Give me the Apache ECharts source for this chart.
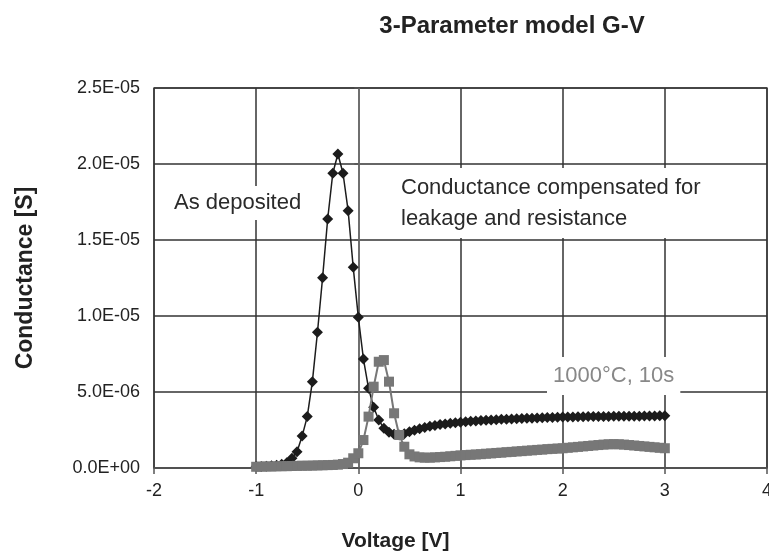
<!DOCTYPE html>
<html>
<head>
<meta charset="utf-8">
<script src="https://cdn.jsdelivr.net/npm/echarts@6/dist/echarts.min.js"></script>
<style>
html,body{margin:0;padding:0;background:#fff;}
#chart{width:769px;height:557px;}
</style>
</head>
<body>
<div id="chart"></div>
<script>
const voltages = [-1.00,-0.95,-0.90,-0.85,-0.80,-0.75,-0.70,-0.65,-0.60,-0.55,-0.50,-0.45,-0.40,-0.35,-0.30,-0.25,-0.20,-0.15,-0.10,-0.05,
0.00,0.05,0.10,0.15,0.20,0.25,0.30,0.35,0.40,0.45,0.50,0.55,0.60,0.65,0.70,0.75,0.80,0.85,0.90,0.95,
1.00,1.05,1.10,1.15,1.20,1.25,1.30,1.35,1.40,1.45,1.50,1.55,1.60,1.65,1.70,1.75,1.80,1.85,1.90,1.95,
2.00,2.05,2.10,2.15,2.20,2.25,2.30,2.35,2.40,2.45,2.50,2.55,2.60,2.65,2.70,2.75,2.80,2.85,2.90,2.95,3.00];

const asDeposited = [1.0e-7,1.0e-7,1.2e-7,1.4e-7,1.8e-7,2.4e-7,3.5e-7,6.4e-7,1.07e-6,2.10e-6,3.38e-6,5.68e-6,8.93e-6,1.252e-5,1.638e-5,1.939e-5,2.066e-5,1.939e-5,1.693e-5,1.320e-5,
9.91e-6,7.17e-6,5.24e-6,4.00e-6,3.16e-6,2.61e-6,2.35e-6,2.22e-6,2.17e-6,2.25e-6,2.38e-6,2.48e-6,2.58e-6,2.66e-6,2.74e-6,2.80e-6,2.86e-6,2.90e-6,2.95e-6,2.98e-6,
3.01e-6,3.04e-6,3.07e-6,3.09e-6,3.12e-6,3.14e-6,3.16e-6,3.18e-6,3.20e-6,3.21e-6,3.23e-6,3.24e-6,3.26e-6,3.27e-6,3.28e-6,3.29e-6,3.31e-6,3.32e-6,3.33e-6,3.34e-6,
3.35e-6,3.36e-6,3.36e-6,3.37e-6,3.37e-6,3.38e-6,3.38e-6,3.39e-6,3.39e-6,3.39e-6,3.40e-6,3.40e-6,3.40e-6,3.41e-6,3.41e-6,3.41e-6,3.42e-6,3.42e-6,3.42e-6,3.43e-6,3.43e-6];

const annealed = [8e-8,9e-8,1.0e-7,1.0e-7,1.1e-7,1.2e-7,1.2e-7,1.3e-7,1.4e-7,1.5e-7,1.5e-7,1.6e-7,1.7e-7,1.8e-7,1.9e-7,2.0e-7,2.2e-7,2.6e-7,3.5e-7,6.4e-7,
9.7e-7,1.84e-6,3.38e-6,5.35e-6,6.99e-6,7.10e-6,5.68e-6,3.60e-6,2.17e-6,1.40e-6,9.0e-7,7.6e-7,7.0e-7,6.8e-7,6.8e-7,7.0e-7,7.2e-7,7.4e-7,7.7e-7,8.0e-7,
8.3e-7,8.5e-7,8.7e-7,8.9e-7,9.1e-7,9.4e-7,9.6e-7,9.9e-7,1.01e-6,1.04e-6,1.06e-6,1.09e-6,1.11e-6,1.14e-6,1.16e-6,1.19e-6,1.21e-6,1.24e-6,1.26e-6,1.28e-6,
1.30e-6,1.33e-6,1.36e-6,1.39e-6,1.42e-6,1.45e-6,1.48e-6,1.51e-6,1.54e-6,1.56e-6,1.57e-6,1.56e-6,1.54e-6,1.51e-6,1.48e-6,1.45e-6,1.42e-6,1.39e-6,1.36e-6,1.33e-6,1.30e-6];

const xTicks = [-2,-1,0,1,2,3,4];
const yTicks = ['0.0E+00','5.0E-06','1.0E-05','1.5E-05','2.0E-05','2.5E-05'];

const FONT = "'Liberation Sans', Arial, sans-serif";

function pair(xs, ys){ return xs.map((x,i)=>[x, ys[i]]); }
function yFmt(v){
  const idx = Math.round(v / 5e-6);
  return yTicks[idx] !== undefined ? yTicks[idx] : v.toExponential(1).toUpperCase();
}

const chart = echarts.init(document.getElementById('chart'), null, {renderer:'canvas'});
chart.setOption({
  backgroundColor:'#ffffff',
  animation:false,
  title:{
    text:'3-Parameter model G-V',
    left:507, top:9, textAlign:'center',
    textStyle:{fontFamily:FONT, fontSize:24, fontWeight:'bold', color:'#222'}
  },
  grid:{left:154, right:2, top:88, bottom:89, show:true, borderColor:'#555', borderWidth:1.5, backgroundColor:'transparent', outerBoundsMode:'none', containLabel:false},
  xAxis:{
    type:'value', min:xTicks[0], max:xTicks[xTicks.length-1], interval:1,
    name:'Voltage [V]', nameLocation:'middle', nameGap:63,
    nameTextStyle:{fontFamily:FONT, fontSize:21, fontWeight:'bold', color:'#222', padding:[0,130,0,0]},
    axisLine:{show:true, lineStyle:{color:'#555', width:1.5}},
    axisTick:{show:true, length:6, lineStyle:{color:'#555', width:1.5}},
    axisLabel:{fontFamily:FONT, fontSize:18, color:'#222', margin:14, hideOverlap:false},
    splitLine:{show:true, lineStyle:{color:['#333','#333','#aaa','#333','#333','#333','#333'], width:1.5}}
  },
  yAxis:{
    type:'value', min:0, max:2.5e-5, interval:5e-6,
    name:'Conductance [S]', nameLocation:'middle', nameGap:117,
    nameTextStyle:{fontFamily:FONT, fontSize:23, fontWeight:'bold', color:'#222'},
    axisLine:{show:true, lineStyle:{color:'#555', width:1.5}},
    axisTick:{show:true, length:4, lineStyle:{color:'#555', width:1.5}},
    axisLabel:{fontFamily:FONT, fontSize:18, color:'#222', margin:14, formatter:yFmt},
    splitLine:{show:true, lineStyle:{color:'#333', width:1.5}}
  },
  graphic:[
    {type:'text', left:166, top:186, z:1,
     style:{text:'As deposited', font:"22px 'Liberation Sans', Arial, sans-serif", fill:'#2a2a2a', backgroundColor:'#fff', padding:[6,8]}},
    {type:'text', left:393, top:168, z:1,
     style:{text:'Conductance compensated for\nleakage and resistance', font:"22px 'Liberation Sans', Arial, sans-serif", lineHeight:31, fill:'#2a2a2a', backgroundColor:'#fff', padding:[4,8]}},
    {type:'text', left:547, top:357, z:1,
     style:{text:'1000°C, 10s', font:"22px 'Liberation Sans', Arial, sans-serif", fill:'#888', backgroundColor:'#fff', padding:[8,6]}}
  ],
  series:[
    {name:'As deposited', type:'line', data:pair(voltages, asDeposited),
     symbol:'diamond', symbolSize:11, showAllSymbol:true,
     itemStyle:{color:'#1c1c1c'}, lineStyle:{color:'#1c1c1c', width:1.5}, z:2},
    {name:'1000°C, 10s', type:'line', data:pair(voltages, annealed),
     symbol:'rect', symbolSize:10, showAllSymbol:true,
     itemStyle:{color:'#777'}, lineStyle:{color:'#777', width:2}, z:3}
  ]
});
</script>
</body>
</html>
